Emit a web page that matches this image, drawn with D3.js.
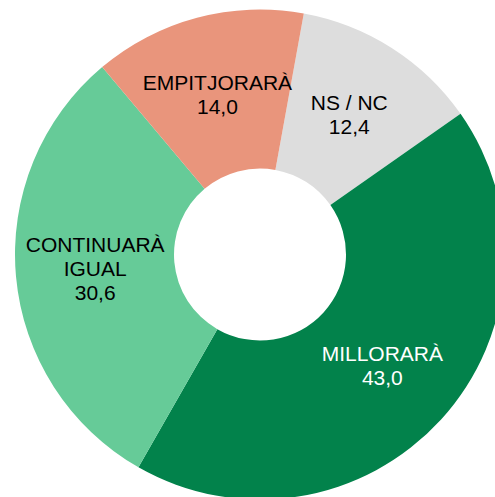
<!DOCTYPE html>
<html>
<head>
<meta charset="utf-8">
<script src="https://cdn.jsdelivr.net/npm/d3@7"></script>
<style>
  body { margin: 0; background: #fff; }
  svg { display: block; }
</style>
</head>
<body>
<script>
// categories and values, in the order drawn clockwise from the top
var categories = ["NS / NC", "MILLORARÀ", "CONTINUARÀ IGUAL", "EMPITJORARÀ"];
var labelLines = [["NS / NC"], ["MILLORARÀ"], ["CONTINUARÀ", "IGUAL"], ["EMPITJORARÀ"]];
var values = [12.4, 43.0, 30.6, 14.0];
var colors = ["#dddddd", "#02824b", "#66cb98", "#e9957c"];
var textColors = ["#000", "#fff", "#000", "#000"];

var width = 495, height = 497;
var cx = 260, cy = 254.5;
var outerR = 245, innerR = 86;
var start = 10.3 * Math.PI / 180;

var data = categories.map(function (c, i) {
    return { name: c, lines: labelLines[i], value: values[i], color: colors[i], text: textColors[i] };
});

var svg = d3.select("body").append("svg")
    .attr("width", width)
    .attr("height", height)
    .append("g")
    .attr("transform", "translate(" + cx + "," + cy + ")");

var pie = d3.pie()
    .sort(null)
    .value(function (d) { return d.value; })
    .startAngle(start)
    .endAngle(start + 2 * Math.PI);

var arc = d3.arc()
    .innerRadius(innerR)
    .outerRadius(outerR);

var arcs = pie(data);

svg.selectAll("path")
    .data(arcs)
    .enter().append("path")
    .attr("d", arc)
    .attr("fill", function (d) { return d.data.color; });

// labels at the centroid of each slice
var lineH = 24;
var labels = svg.selectAll("text.lbl")
    .data(arcs)
    .enter().append("text")
    .attr("class", "lbl")
    .attr("text-anchor", "middle")
    .attr("font-family", "Liberation Sans, Arial, sans-serif")
    .attr("font-size", "21px")
    .attr("fill", function (d) { return d.data.text; })
    .attr("transform", function (d) { return "translate(" + arc.centroid(d) + ")"; });

labels.each(function (d) {
    var lines = d.data.lines.concat([d3.format(".1f")(d.data.value).replace(".", ",")]);
    var top = -(lines.length - 1) * lineH / 2 + 7;
    d3.select(this).selectAll("tspan")
        .data(lines)
        .enter().append("tspan")
        .attr("x", 0)
        .attr("y", function (t, i) { return top + i * lineH; })
        .text(function (t) { return t; });
});
</script>
</body>
</html>
